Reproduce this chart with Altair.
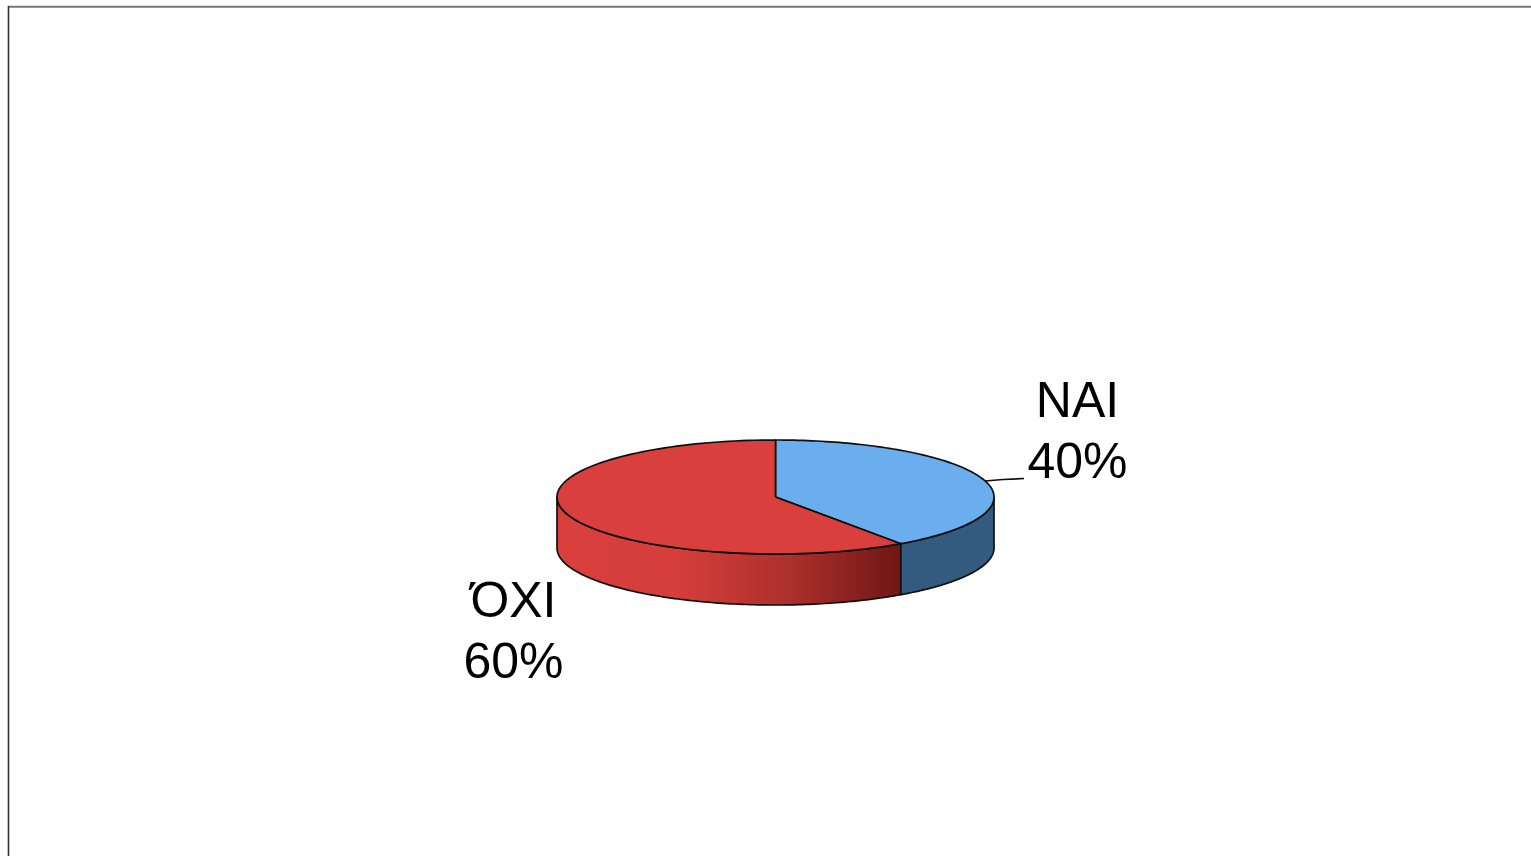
import math
import altair as alt
import pandas as pd

# Slices of the disc, clockwise from twelve o'clock
names = ["ΝΑΙ", "ΌΧΙ"]
shares = [40, 60]
top_colors = ["#6AAEEE", "#D83F3D"]

W, H = 1531, 856
CX, CY, RX, RY, DEPTH = 775.5, 497, 218.5, 57, 51  # disc geometry in pixels
TILT_SHIFT = 1.0  # degrees the tilted view moves the front seam round the rim


def ux(px):
    return (px - CX) / RX


def uy(py):
    return (CY - py) / RY


def rim(deg, drop=0.0):
    t = math.radians(deg)
    return math.sin(t), math.cos(t) - drop


def arc(a, b, drop=0.0, steps=120):
    return [rim(a + (b - a) * i / steps, drop) for i in range(steps + 1)]


x_scale = alt.Scale(domain=[ux(0), ux(W)], range=[0, W])
y_scale = alt.Scale(domain=[uy(H), uy(0)], range=[H, 0])
x_enc = alt.X("u:Q", scale=x_scale, axis=None)
y_enc = alt.Y("v:Q", scale=y_scale, axis=None)
OUTLINE = "#0E0E0E"


def polygon(points, fill):
    closed = points + points[:1]
    frame = pd.DataFrame(
        {"u": [p[0] for p in closed], "v": [p[1] for p in closed], "i": range(len(closed))}
    )
    return (
        alt.Chart(frame)
        .mark_line(fill=fill, stroke=OUTLINE, strokeWidth=1.7, strokeJoin="round", clip=False)
        .encode(x=x_enc, y=y_enc, order="i:Q")
    )


split = 360 * shares[0] / sum(shares) + TILT_SHIFT
drop = DEPTH / RY

red_side = alt.Gradient(
    gradient="linear",
    x1=0, y1=0, x2=1, y2=0,
    stops=[
        alt.GradientStop(color="#D83F3D", offset=0),
        alt.GradientStop(color="#D53E3B", offset=0.35),
        alt.GradientStop(color="#AC302C", offset=0.68),
        alt.GradientStop(color="#6F1613", offset=1),
    ],
)

side_red = polygon(arc(split, 270) + arc(270, split, drop), red_side)
side_blue = polygon(arc(90, split) + arc(split, 90, drop), "#335A7F")
top_blue = polygon([(0.0, 0.0)] + arc(0, split), top_colors[0])
top_red = polygon([(0.0, 0.0)] + arc(split, 360), top_colors[1])

# Leader from the rim to the ΝΑΙ label
leader = (
    alt.Chart(pd.DataFrame({"u": [ux(985), ux(1003), ux(1024)], "v": [uy(481), uy(479.5), uy(478.5)]}))
    .mark_line(stroke=OUTLINE, strokeWidth=1.7)
    .encode(x=x_enc, y=y_enc)
)

labels = pd.DataFrame(
    {
        "u": [ux(1077.5), ux(513.5)],
        "v": [uy(416.5), uy(616.5)],
        "t": [f"{n}\n{s}%" for n, s in zip(names, shares)],
    }
)
text = (
    alt.Chart(labels)
    .mark_text(
        font="Liberation Sans",
        fontSize=50,
        color="#000000",
        align="center",
        baseline="alphabetic",
        lineBreak="\n",
        lineHeight=61,
    )
    .encode(x=x_enc, y=y_enc, text="t:N")
)

# Page frame, open towards the right and bottom edges
frame_top = alt.Chart(pd.DataFrame({"a": [0]})).mark_rule(stroke="#777777", strokeWidth=2).encode(
    x=alt.value(8), x2=alt.value(W), y=alt.value(6.7)
)
frame_left = alt.Chart(pd.DataFrame({"a": [0]})).mark_rule(stroke="#333333", strokeWidth=1.6).encode(
    x=alt.value(8.5), y=alt.value(6), y2=alt.value(H)
)

chart = (
    alt.layer(frame_top, frame_left, leader, side_red, side_blue, top_blue, top_red, text)
    .properties(width=W, height=H, padding=0, background="#FFFFFF", autosize=alt.AutoSizeParams(type="none"))
    .configure_view(stroke=None)
)

chart.save("out.html", embed_options={"renderer": "svg", "actions": False})
